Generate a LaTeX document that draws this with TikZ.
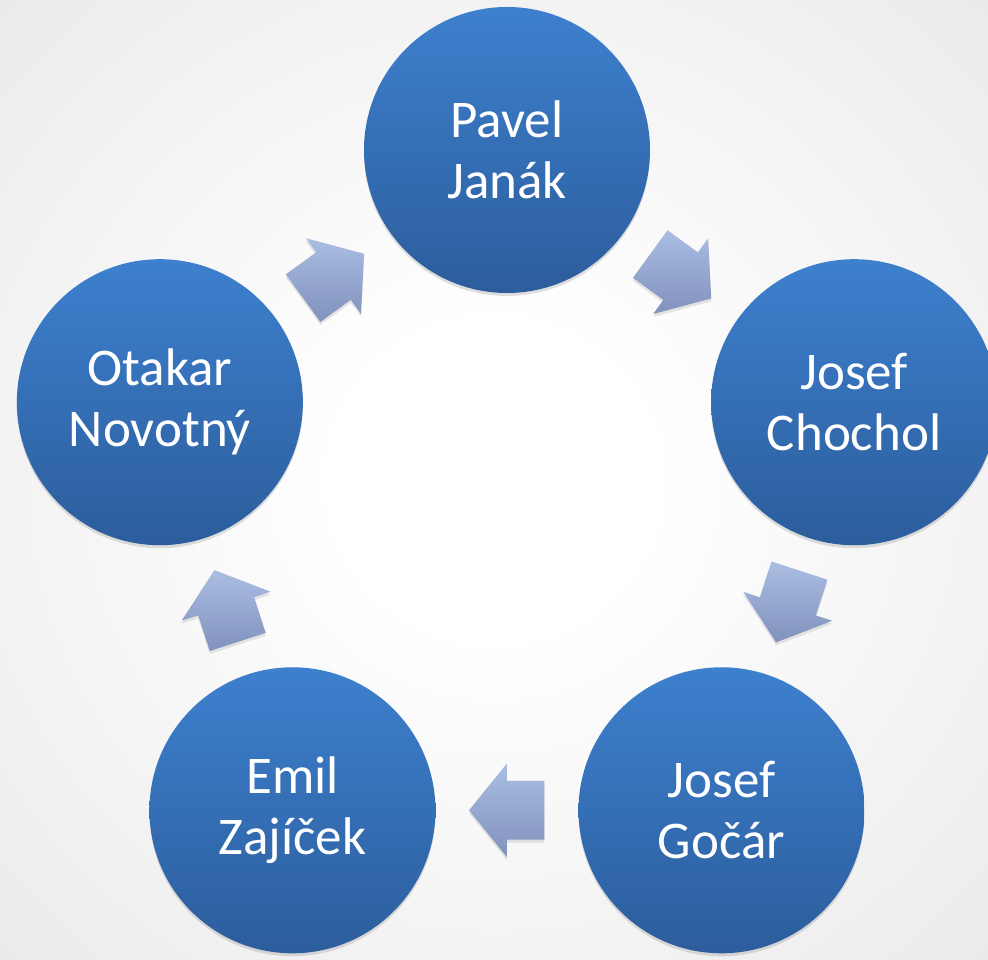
\documentclass[tikz,border=0pt]{standalone}
\usepackage{fontspec}
\newfontfamily\namefont{Carlito}
\usetikzlibrary{calc,shapes.arrows,shadows}
\definecolor{circtop}{RGB}{61,128,206}
\definecolor{circbot}{RGB}{44,93,156}
\definecolor{arrtop}{RGB}{170,189,226}
\definecolor{arrbot}{RGB}{128,146,189}
\definecolor{bgedge}{RGB}{208,208,208}
\pgfdeclareradialshading{bgglow}{\pgfpoint{0bp}{0bp}}{color(0bp)=(white); color(8bp)=(white); color(72bp)=(bgedge)}

\begin{document}
\begin{tikzpicture}[x=1pt, y=1pt,
		person/.style={circle, minimum size=286pt, inner sep=0pt, align=center, text=white,
			top color=circtop, bottom color=circbot,
			drop shadow={opacity=0.25, shadow xshift=0pt, shadow yshift=-3pt},
			font=\namefont\fontsize{53pt}{61pt}\selectfont},
		flowarrow/.style={single arrow, minimum height=75pt, inner xsep=0pt, inner ysep=29pt,
			single arrow head extend=17pt, single arrow tip angle=102, anchor=tail},
		arrowfill/.style={top color=arrtop, bottom color=arrbot,
			drop shadow={opacity=0.2, shadow xshift=0pt, shadow yshift=-3pt}}]
				% Hintergrund
				\useasboundingbox (-507,-445) rectangle (481,515);
				\clip (-507,-445) rectangle (481,515);
				\shade[shading=bgglow] (-507,-445) rectangle (481,515);
				% Kreise
				\node[person] (janak)   at (90:365)  {Pavel\\Janák};
				\node[person] (chochol) at (18:365)  {Josef\\Chochol};
				\node[person] (gocar)   at (-54:365) {Josef\\Gočár};
				\node[person] (zajicek) at (-126:365) {Emil\\Zajíček};
				\node[person] (novotny) at (162:365) {Otakar\\Novotný};
				% Pfeile
				\foreach \a/\b in {novotny/janak, janak/chochol, chochol/gocar, gocar/zajicek, zajicek/novotny} {
					\path let \p1=($(\b)-(\a)$), \n1={atan2(\y1,\x1)} in
						node[flowarrow, rotate=\n1] (arr-\a) at ($($(\a)!0.5!(\b)$)!37.5pt!(\a)$) {};
					\shade[arrowfill] (arr-\a.tip) -- (arr-\a.after tip) -- (arr-\a.after head)
						-- (arr-\a.before tail) -- (arr-\a.after tail) -- (arr-\a.before head)
						-- (arr-\a.before tip) -- cycle;
				}
\end{tikzpicture}
\end{document}
